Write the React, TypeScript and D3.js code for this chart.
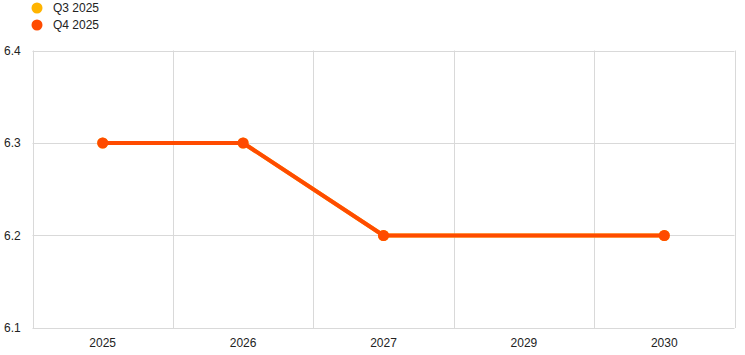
import React from "react";
import * as d3 from "d3";

const categories = ["2025", "2026", "2027", "2029", "2030"];
const q3Values: (number | null)[] = [6.3, 6.3, 6.2, null, 6.2];
const q4Values: (number | null)[] = [6.3, 6.3, 6.2, null, 6.2];
const yTicks = [6.1, 6.2, 6.3, 6.4];
const seriesNames = ["Q3 2025", "Q4 2025"];
const seriesColors = ["#FFB400", "#FF4B00"];

const W = 745;
const H = 355;
const M = { left: 32.5, right: 10.5, top: 50.5, bottom: 27 };

export default function App() {
  const x = d3
    .scaleBand<string>()
    .domain(categories)
    .range([M.left, W - M.right]);
  const y = d3.scaleLinear().domain([6.1, 6.4]).range([H - M.bottom, M.top]);
  const series = [q3Values, q4Values];
  const cx = (c: string) => (x(c) as number) + x.bandwidth() / 2;

  const line = d3
    .line<{ c: string; v: number }>()
    .x((d) => cx(d.c))
    .y((d) => y(d.v));

  const font = "Arial, 'Liberation Sans', sans-serif";

  return (
    <svg
      width={W}
      height={H}
      style={{ position: "absolute", left: 0, top: 0, background: "#fff" }}
      fontFamily={font}
    >
      {/* horizontal grid */}
      {yTicks.map((t) => (
        <line
          key={"h" + t}
          x1={M.left}
          x2={W - M.right}
          y1={Math.round(y(t)) + 0.5}
          y2={Math.round(y(t)) + 0.5}
          stroke="#d9d9d9"
          strokeWidth={1}
        />
      ))}
      {/* vertical grid at band boundaries */}
      {[...categories.map((c) => x(c) as number), W - M.right].map((v, i) => (
        <line
          key={"v" + i}
          x1={Math.round(v) + 0.5}
          x2={Math.round(v) + 0.5}
          y1={M.top}
          y2={H - M.bottom}
          stroke="#d9d9d9"
          strokeWidth={1}
        />
      ))}
      {/* y labels */}
      {yTicks.map((t) => (
        <text
          key={"yl" + t}
          x={4}
          y={y(t)}
          dy="0.35em"
          fontSize={12}
          fill="#222"
        >
          {d3.format(".1f")(t)}
        </text>
      ))}
      {/* x labels */}
      {categories.map((c) => (
        <text
          key={"xl" + c}
          x={cx(c)}
          y={347}
          textAnchor="middle"
          fontSize={12}
          fill="#222"
        >
          {c}
        </text>
      ))}
      {/* series */}
      {series.map((vals, si) => {
        const pts = categories
          .map((c, i) => ({ c, v: vals[i] }))
          .filter((d) => d.v !== null) as { c: string; v: number }[];
        return (
          <g key={"s" + si}>
            <path
              d={line(pts) || ""}
              fill="none"
              stroke={seriesColors[si]}
              strokeWidth={4}
              strokeLinejoin="round"
            />
            {pts.map((p) => (
              <circle
                key={p.c}
                cx={cx(p.c)}
                cy={y(p.v)}
                r={5.5}
                fill={seriesColors[si]}
              />
            ))}
          </g>
        );
      })}
      {/* legend */}
      {seriesNames.map((n, i) => (
        <g key={"lg" + n}>
          <circle cx={37} cy={8 + i * 17} r={5.5} fill={seriesColors[i]} />
          <text x={53} y={8 + i * 17} dy="0.35em" fontSize={12} fill="#222">
            {n}
          </text>
        </g>
      ))}
    </svg>
  );
}
